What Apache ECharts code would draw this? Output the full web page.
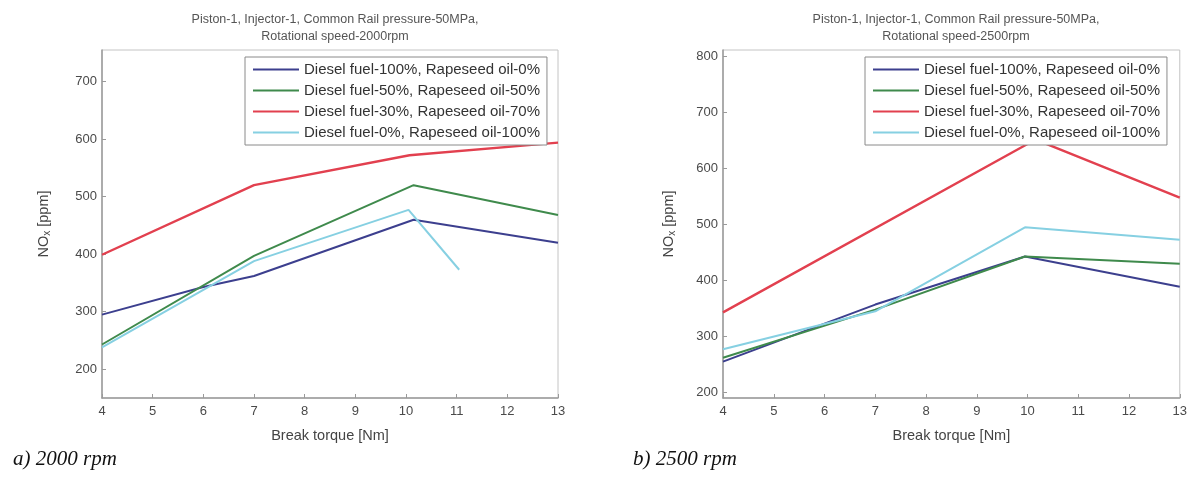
<!DOCTYPE html>
<html>
<head>
<meta charset="utf-8">
<script src="https://cdn.jsdelivr.net/npm/echarts@6/dist/echarts.min.js"></script>
<style>
html,body{margin:0;padding:0;background:#fff;}
#c{width:1190px;height:479px;}
</style>
</head>
<body>
<div id="c"></div>
<script>
// ---- Data ----
const seriesNames = [
  'Diesel fuel-100%, Rapeseed oil-0%',
  'Diesel fuel-50%, Rapeseed oil-50%',
  'Diesel fuel-30%, Rapeseed oil-70%',
  'Diesel fuel-0%, Rapeseed oil-100%'
];
const seriesColors = ['#3c3f8e', '#3f8a4c', '#e2404f', '#86d0e2'];

const titles = [
  'Piston-1, Injector-1, Common Rail pressure-50MPa,\nRotational speed-2000rpm',
  'Piston-1, Injector-1, Common Rail pressure-50MPa,\nRotational speed-2500rpm'
];
const captions = ['a) 2000 rpm', 'b) 2500 rpm'];
const xTicks = [4, 5, 6, 7, 8, 9, 10, 11, 12, 13];
const yTicks2000 = [200, 300, 400, 500, 600, 700];
const yTicks2500 = [200, 300, 400, 500, 600, 700, 800];

// 2000 rpm
const torque2000_D100 = [4, 6, 7, 10.15, 13];
const nox2000_D100    = [295, 343, 362, 460, 420];
const torque2000_D50  = [4, 7, 10.15, 13];
const nox2000_D50     = [243, 397, 520, 468];
const torque2000_D30  = [4, 7, 10.07, 13];
const nox2000_D30     = [399, 520, 572, 594];
const torque2000_D0   = [4, 7, 10.05, 11.05];
const nox2000_D0      = [238, 388, 477, 373];

// 2500 rpm
const torque2500_D100 = [4, 7, 9.95, 13];
const nox2500_D100    = [255, 357, 443, 389];
const torque2500_D50  = [4, 7, 9.95, 13];
const nox2500_D50     = [262, 348, 443, 430];
const torque2500_D30  = [4, 10.16, 13];
const nox2500_D30     = [343, 652, 548];
const torque2500_D0   = [4, 7, 9.95, 13];
const nox2500_D0      = [277, 345, 495, 473];

// ---- Build ----
function pairs(xs, ys){ return xs.map((x,i)=>[x, ys[i]]); }
const sets = [
  [pairs(torque2000_D100,nox2000_D100), pairs(torque2000_D50,nox2000_D50), pairs(torque2000_D30,nox2000_D30), pairs(torque2000_D0,nox2000_D0)],
  [pairs(torque2500_D100,nox2500_D100), pairs(torque2500_D50,nox2500_D50), pairs(torque2500_D30,nox2500_D30), pairs(torque2500_D0,nox2500_D0)]
];

const grids = [
  {left:102, top:50, width:456, height:348},
  {left:723, top:50, width:457, height:348}
];
const yRanges = [[150, 755], [190, 812]];
const yTickSets = [yTicks2000, yTicks2500];
const axisGray = '#9a9a9a';
const labelColor = '#4a4a4a';
const font = 'Liberation Sans, Arial, sans-serif';

const option = {
  animation:false,
  backgroundColor:'#fff',
  title: [
    {text:titles[0], left:330, top:6, textAlign:'center', textStyle:{fontFamily:font, fontSize:12.5, fontWeight:'normal', color:'#555', lineHeight:17}},
    {text:titles[1], left:951, top:6, textAlign:'center', textStyle:{fontFamily:font, fontSize:12.5, fontWeight:'normal', color:'#555', lineHeight:17}},
    {text:captions[0], left:8, top:444, textStyle:{fontFamily:'Liberation Serif, Times New Roman, serif', fontStyle:'italic', fontWeight:'normal', fontSize:21, color:'#111'}},
    {text:captions[1], left:628, top:444, textStyle:{fontFamily:'Liberation Serif, Times New Roman, serif', fontStyle:'italic', fontWeight:'normal', fontSize:21, color:'#111'}}
  ],
  legend: [0,1].map(i => ({
    data: seriesNames,
    orient:'vertical',
    left: i===0 ? 245 : 865,
    top: 57,
    padding:[5,7,5,7],
    itemGap:6,
    itemWidth:46,
    itemHeight:14,
    itemStyle:{opacity:0},
    backgroundColor:'#fff',
    borderColor:'#8a8a8a',
    borderWidth:1,
    selectedMode:false,
    textStyle:{fontFamily:font, fontSize:15, color:'#333'}
  })),
  grid: grids.map(g => Object.assign({show:true, borderColor:'#c4c4c4', borderWidth:1, backgroundColor:'transparent'}, g)),
  xAxis: [0,1].map(i => ({
    type:'value', gridIndex:i, min:4, max:13, interval:1,
    name:'Break torque [Nm]', nameLocation:'middle', nameGap:30,
    nameTextStyle:{fontFamily:font, fontSize:14.5, color:'#444'},
    axisLine:{show:true, lineStyle:{color:axisGray, width:1.5}},
    axisTick:{show:true, inside:true, length:4, lineStyle:{color:axisGray}},
    axisLabel:{fontFamily:font, fontSize:13, color:labelColor, margin:7, formatter:(v)=> xTicks.includes(v) ? String(v) : ''},
    splitLine:{show:false}
  })),
  yAxis: [0,1].map(i => ({
    type:'value', gridIndex:i, min:yRanges[i][0], max:yRanges[i][1],
    name:'{n|NO}{s|x}{n| [ppm]}', nameLocation:'middle', nameGap: i===0 ? 50 : 46, nameRotate:90,
    nameTextStyle:{rich:{n:{fontFamily:font, fontSize:14.5, color:'#444'}, s:{fontFamily:font, fontSize:10, color:'#444', verticalAlign:'bottom', padding:[7,0,0,0]}}},
    axisLine:{show:true, lineStyle:{color:axisGray, width:1.5}},
    axisTick:{show:true, inside:true, length:4, lineStyle:{color:axisGray}, customValues:yTickSets[i]},
    axisLabel:{fontFamily:font, fontSize:13, color:labelColor, margin:5, customValues:yTickSets[i]},
    splitLine:{show:false}
  })),
  series: []
};

[0,1].forEach(g => {
  sets[g].forEach((d, k) => {
    option.series.push({
      type:'line', name:seriesNames[k], xAxisIndex:g, yAxisIndex:g,
      data:d, symbol:'none', showSymbol:false,
      lineStyle:{color:seriesColors[k], width: k===2 ? 2.4 : 2},
      itemStyle:{color:seriesColors[k]},
      z: k===3 ? 3 : 2
    });
  });
});

const chart = echarts.init(document.getElementById('c'), null, {renderer:'canvas'});
chart.setOption(option);
</script>
</body>
</html>
